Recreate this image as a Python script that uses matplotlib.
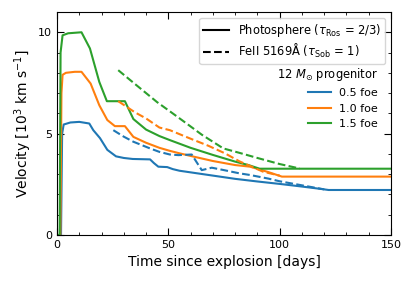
import numpy as np
import matplotlib
matplotlib.use("Agg")
import matplotlib.pyplot as plt
from matplotlib.lines import Line2D
from matplotlib.ticker import MultipleLocator

# photosphere velocities (tau_Ros = 2/3), 10^3 km/s
t_ph_05 = [0, 1.8, 2.3, 3, 6, 10, 14.5, 16.3, 19.3, 22.6, 26.5, 30, 34, 41.8, 43.5, 45.5,
           49.5, 52, 55, 60, 70, 80, 90, 100, 110, 118, 122, 150]
v_ph_05 = [0, 0, 5.0, 5.45, 5.55, 5.58, 5.5, 5.17, 4.78, 4.2, 3.88, 3.8, 3.75, 3.73, 3.55, 3.37,
           3.35, 3.25, 3.17, 3.09, 2.93, 2.77, 2.64, 2.52, 2.39, 2.28, 2.22, 2.22]

t_ph_10 = [0, 1.5, 2.0, 2.5, 4, 8, 11, 15.1, 19, 22.6, 26, 30.5, 34.3, 40, 46, 50.7,
           55, 60, 70, 80, 86.7, 95, 101, 150]
v_ph_10 = [0, 0, 7.0, 7.9, 8.0, 8.05, 8.05, 7.47, 6.4, 5.67, 5.37, 5.37, 4.84, 4.55, 4.3, 4.15,
           4.03, 3.9, 3.65, 3.45, 3.37, 3.1, 2.88, 2.88]

t_ph_15 = [0, 1.2, 1.6, 2.5, 5, 11, 14.8, 19, 22.4, 30.5, 34.3, 40, 46, 50.7, 60, 70,
           80, 86, 91, 150]
v_ph_15 = [0, 0, 9.0, 9.85, 9.95, 10.0, 9.2, 7.55, 6.6, 6.6, 5.72, 5.2, 4.88, 4.68, 4.3, 3.95,
           3.62, 3.45, 3.27, 3.27]

# FeII 5169 velocities (tau_Sob = 1)
t_fe_05 = [25.3, 30, 34.3, 41.8, 46, 50.7, 54.5, 60.5, 65, 69.5, 75, 82, 86.7, 95, 100, 110, 120]
v_fe_05 = [5.17, 4.85, 4.6, 4.27, 4.1, 3.97, 3.94, 3.97, 3.2, 3.32, 3.2, 3.04, 2.96, 2.78, 2.65,
           2.45, 2.25]

t_fe_10 = [27.5, 35, 40, 46, 50.7, 60, 68, 75.4, 82, 92.6, 100]
v_fe_10 = [6.6, 6.05, 5.75, 5.3, 5.17, 4.75, 4.4, 4.03, 3.63, 3.12, 2.93]

t_fe_15 = [27.5, 35, 40, 45, 50.7, 56.7, 65, 74.7, 82, 90, 100, 109]
v_fe_15 = [8.13, 7.45, 7.0, 6.55, 6.1, 5.62, 4.95, 4.27, 4.05, 3.8, 3.5, 3.28]

labels = ["0.5 foe", "1.0 foe", "1.5 foe"]
colors = ["tab:blue", "tab:orange", "tab:green"]

fig = plt.figure(figsize=(4.15, 2.81), dpi=100)
ax = fig.add_axes([57 / 415, 1 - 235 / 281, 334 / 415, 223 / 281])

ph = [(t_ph_05, v_ph_05), (t_ph_10, v_ph_10), (t_ph_15, v_ph_15)]
fe = [(t_fe_05, v_fe_05), (t_fe_10, v_fe_10), (t_fe_15, v_fe_15)]
for (t, v), c in zip(ph, colors):
    ax.plot(t, v, color=c, lw=1.5)
for (t, v), c in zip(fe, colors):
    ax.plot(t, v, color=c, lw=1.5, ls="--")

ax.set_xlim(0, 150)
ax.set_ylim(0, 11)
ax.xaxis.set_major_locator(MultipleLocator(50))
ax.xaxis.set_minor_locator(MultipleLocator(10))
ax.yaxis.set_major_locator(MultipleLocator(5))
ax.yaxis.set_minor_locator(MultipleLocator(1))
ax.tick_params(which="both", direction="in", top=True, right=True, labelsize=8)
ax.tick_params(which="major", length=5)
ax.tick_params(which="minor", length=2.5)
ax.set_xlabel("Time since explosion [days]", fontsize=10, labelpad=4)
ax.set_ylabel(r"Velocity [$10^3$ km s$^{-1}$]", fontsize=10, labelpad=3)

h1 = [Line2D([], [], color="k", lw=1.5), Line2D([], [], color="k", lw=1.5, ls="--")]
leg1 = ax.legend(h1, [r"Photosphere ($\tau_{\rm Ros}$ = 2/3)", r"FeII 5169Å ($\tau_{\rm Sob}$ = 1)"],
                 loc="upper right", fontsize=8.3, handlelength=2.2, borderaxespad=0.5,
                 labelspacing=0.25, borderpad=0.35)
ax.add_artist(leg1)

h2 = [Line2D([], [], color=c, lw=1.5) for c in colors]
ax.legend(h2, labels, loc="upper right", bbox_to_anchor=(0.975, 0.78), borderaxespad=0,
          frameon=False, fontsize=8, title=r"12 $M_{\odot}$ progenitor", title_fontsize=8.3,
          alignment="right", handlelength=2.0, labelspacing=0.5)

fig.savefig("out.png", dpi=100)
